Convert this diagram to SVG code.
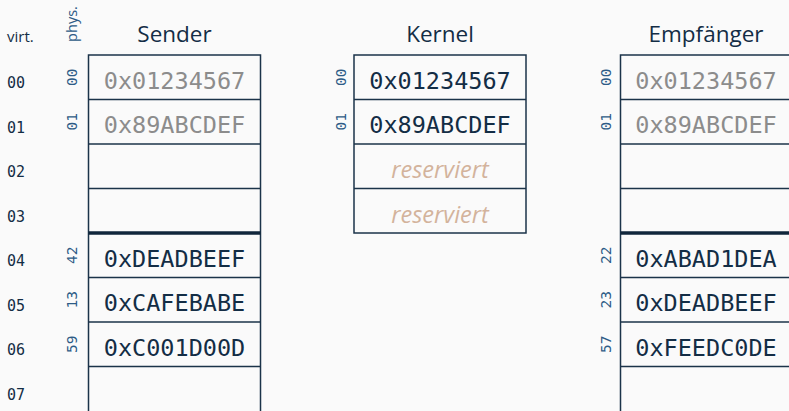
<svg xmlns="http://www.w3.org/2000/svg" width="789" height="411" viewBox="0 0 789 411">
<style>
.bg{fill:#fafafa}
.box{fill:none;stroke:#1b3349;stroke-width:1.5}
.thick{stroke:#10263b;stroke-width:3.5}
.ln{stroke:#1b3349;stroke-width:1.5}
.head{font-family:"Open Sans","Noto Sans",sans-serif;font-size:22.5px;fill:#132d45;text-anchor:middle}
.virt{font-family:"DejaVu Sans Mono","Liberation Mono",monospace;font-size:15px;fill:#132d45}
.phys{font-family:"DejaVu Sans Mono","Liberation Mono",monospace;font-size:14.5px;fill:#2d5b86;text-anchor:middle}
.hex{font-family:"DejaVu Sans Mono","Liberation Mono",monospace;font-size:23.5px;fill:#132d45;text-anchor:middle}
.gray{fill:#8c8c8c}
.res{font-family:"Open Sans","Noto Sans",sans-serif;font-style:italic;font-size:23.5px;fill:#d3b39c;text-anchor:middle}
.lab{font-family:"Open Sans","Noto Sans",sans-serif;font-size:15px;fill:#132d45}
.labp{font-family:"Open Sans","Noto Sans",sans-serif;font-size:14.5px;fill:#2d5b86;text-anchor:middle}
</style>
<rect class="bg" x="0" y="0" width="789" height="411"/>
<g id="virt-axis">
<text class="lab" x="7" y="42">virt.</text>
<text class="virt" x="7" y="88">00</text>
<text class="virt" x="7" y="132.5">01</text>
<text class="virt" x="7" y="177">02</text>
<text class="virt" x="7" y="221.5">03</text>
<text class="virt" x="7" y="266">04</text>
<text class="virt" x="7" y="310.5">05</text>
<text class="virt" x="7" y="355">06</text>
<text class="virt" x="7" y="399.5">07</text>
</g>
<g id="sender">
<text class="head" x="174.5" y="41.5">Sender</text>
<text class="labp" transform="translate(77,24) rotate(-90)">phys.</text>
<rect class="box" x="88.5" y="55" width="172" height="360"/>
<line class="ln" x1="88.5" y1="99.5" x2="260.5" y2="99.5"/>
<line class="ln" x1="88.5" y1="144" x2="260.5" y2="144"/>
<line class="ln" x1="88.5" y1="188.5" x2="260.5" y2="188.5"/>
<line class="thick" x1="88.5" y1="233" x2="260.5" y2="233"/>
<line class="ln" x1="88.5" y1="277.5" x2="260.5" y2="277.5"/>
<line class="ln" x1="88.5" y1="322" x2="260.5" y2="322"/>
<line class="ln" x1="88.5" y1="366.5" x2="260.5" y2="366.5"/>
<text class="phys" transform="translate(77,77.25) rotate(-90)">00</text>
<text class="phys" transform="translate(77,121.75) rotate(-90)">01</text>
<text class="phys" transform="translate(77,255.25) rotate(-90)">42</text>
<text class="phys" transform="translate(77,299.75) rotate(-90)">13</text>
<text class="phys" transform="translate(77,344.25) rotate(-90)">59</text>
<text class="hex gray" x="174.5" y="88.5">0x01234567</text>
<text class="hex gray" x="174.5" y="133">0x89ABCDEF</text>
<text class="hex" x="174.5" y="266.5">0xDEADBEEF</text>
<text class="hex" x="174.5" y="311">0xCAFEBABE</text>
<text class="hex" x="174.5" y="355.5">0xC001D00D</text>
</g>
<g id="kernel">
<text class="head" x="440" y="41.5">Kernel</text>
<rect class="box" x="354" y="55" width="172" height="178"/>
<line class="ln" x1="354" y1="99.5" x2="526" y2="99.5"/>
<line class="ln" x1="354" y1="144" x2="526" y2="144"/>
<line class="ln" x1="354" y1="188.5" x2="526" y2="188.5"/>
<text class="phys" transform="translate(346,77.25) rotate(-90)">00</text>
<text class="phys" transform="translate(346,121.75) rotate(-90)">01</text>
<text class="hex" x="440" y="88.5">0x01234567</text>
<text class="hex" x="440" y="133">0x89ABCDEF</text>
<text class="res" x="440" y="178">reserviert</text>
<text class="res" x="440" y="222.5">reserviert</text>
</g>
<g id="empfaenger">
<text class="head" x="706" y="41.5">Empfänger</text>
<rect class="box" x="620.5" y="55" width="172" height="360"/>
<line class="ln" x1="620.5" y1="99.5" x2="792.5" y2="99.5"/>
<line class="ln" x1="620.5" y1="144" x2="792.5" y2="144"/>
<line class="ln" x1="620.5" y1="188.5" x2="792.5" y2="188.5"/>
<line class="thick" x1="620.5" y1="233" x2="792.5" y2="233"/>
<line class="ln" x1="620.5" y1="277.5" x2="792.5" y2="277.5"/>
<line class="ln" x1="620.5" y1="322" x2="792.5" y2="322"/>
<line class="ln" x1="620.5" y1="366.5" x2="792.5" y2="366.5"/>
<text class="phys" transform="translate(611,77.25) rotate(-90)">00</text>
<text class="phys" transform="translate(611,121.75) rotate(-90)">01</text>
<text class="phys" transform="translate(611,255.25) rotate(-90)">22</text>
<text class="phys" transform="translate(611,299.75) rotate(-90)">23</text>
<text class="phys" transform="translate(611,344.25) rotate(-90)">57</text>
<text class="hex gray" x="706" y="88.5">0x01234567</text>
<text class="hex gray" x="706" y="133">0x89ABCDEF</text>
<text class="hex" x="706" y="266.5">0xABAD1DEA</text>
<text class="hex" x="706" y="311">0xDEADBEEF</text>
<text class="hex" x="706" y="355.5">0xFEEDC0DE</text>
</g>
<g id="connectors"/>
</svg>
